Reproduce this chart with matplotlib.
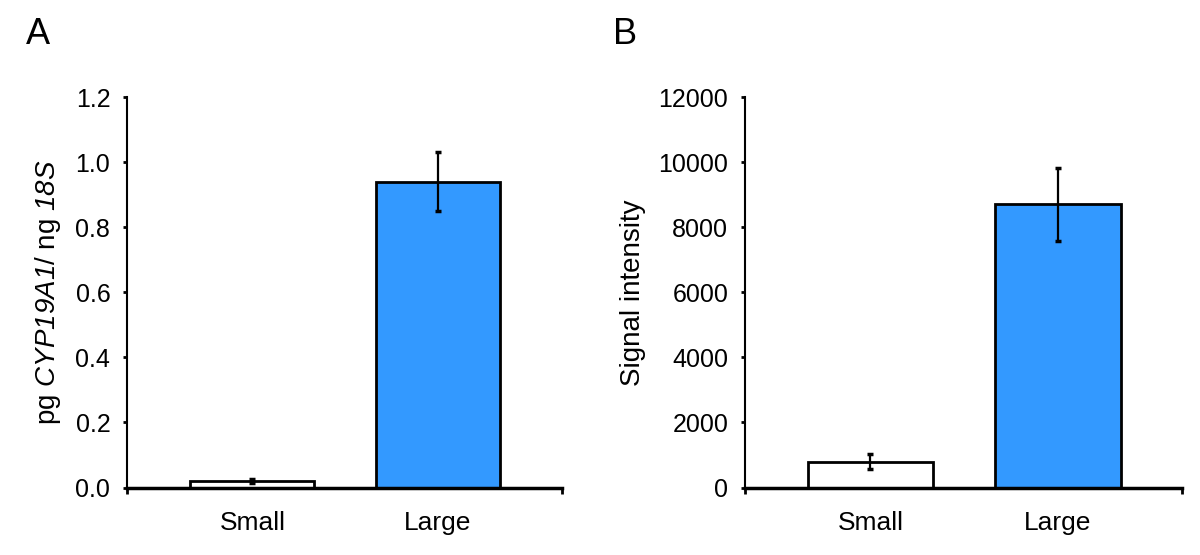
import numpy as np
import matplotlib
matplotlib.use('Agg')
import matplotlib.pyplot as plt

plt.rcParams['font.family'] = ['Liberation Sans', 'DejaVu Sans']
plt.rcParams['mathtext.fontset'] = 'custom'
plt.rcParams['mathtext.rm'] = 'Liberation Sans:italic'
plt.rcParams['mathtext.it'] = 'Liberation Sans:italic'
plt.rcParams['mathtext.default'] = 'it'

# data
groups = ['Small', 'Large']
mrna_mean = [0.02, 0.94]
mrna_err = [0.005, 0.09]
signal_mean = [790, 8700]
signal_err = [230, 1120]
bar_colors = ['white', '#3399ff']

fig = plt.figure(figsize=(12, 5.55), dpi=100)
axA = fig.add_axes([0.1058, 0.1216, 0.3625, 0.7036])
axB = fig.add_axes([0.6208, 0.1216, 0.3640, 0.7036])

pos = np.arange(len(groups))


def draw(ax, mean, err, ymax, step, fmt, ylabel, xlim):
    ax.bar(pos, mean, width=0.67, color=bar_colors, edgecolor='black',
           linewidth=2, zorder=2)
    ax.errorbar(pos, mean, yerr=err, fmt='none', ecolor='black',
                elinewidth=1.6, capsize=2.5, capthick=2.5, zorder=3)
    ax.set_ylim(0, ymax)
    ax.set_xlim(*xlim)
    ticks = np.arange(0, ymax + step / 2, step)
    ax.set_yticks(ticks)
    ax.set_yticklabels([fmt.format(t) for t in ticks])
    ax.set_xticks(pos)
    ax.set_xticklabels(groups)
    ax.set_xticks(list(xlim), minor=True)
    ax.tick_params(axis='x', which='major', length=0, pad=17, labelsize=19)
    ax.tick_params(axis='x', which='minor', length=4, width=2, direction='out')
    ax.tick_params(axis='y', length=3, width=2, direction='out', pad=9,
                   labelsize=18)
    for s in ['top', 'right']:
        ax.spines[s].set_visible(False)
    ax.spines['left'].set_linewidth(1.5)
    ax.spines['bottom'].set_linewidth(2.5)
    ax.set_ylabel(ylabel, fontsize=20, labelpad=9)


draw(axA, mrna_mean, mrna_err, 1.2, 0.2, '{:.1f}',
     r'pg $CYP19A1$/ ng $18S$', (-0.678, 1.672))
draw(axB, signal_mean, signal_err, 12000, 2000, '{:.0f}',
     'Signal intensity', (-0.669, 1.66))

fig.text(0.022, 0.937, 'A', fontsize=26, va='center')
fig.text(0.511, 0.937, 'B', fontsize=26, va='center')

plt.savefig('out.png', dpi=100)
